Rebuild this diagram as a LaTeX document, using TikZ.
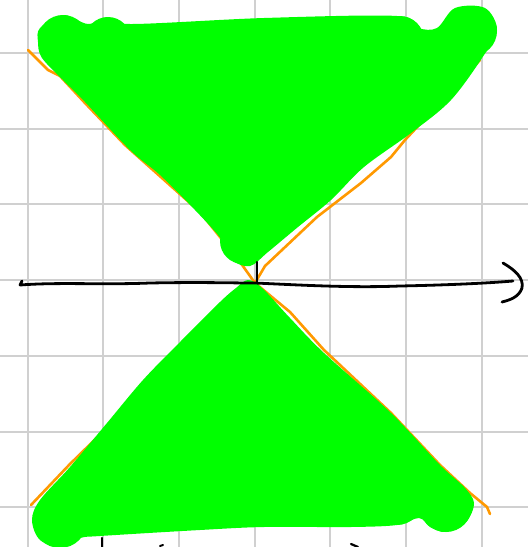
\documentclass[tikz,border=0pt]{standalone}
\begin{document}
\begin{tikzpicture}[x=1pt,y=-1pt,
  gridline/.style={draw={rgb,255:red,208;green,208;blue,208},line width=2pt},
  orangeline/.style={draw={rgb,255:red,255;green,153;blue,0},line width=2.6pt,line join=round,line cap=round},
  blob/.style={fill={rgb,255:red,0;green,255;blue,0}},
  ink/.style={draw=black,line width=2.8pt,line cap=round,line join=round}]
\useasboundingbox (0,0) rectangle (528,547);
\fill[white] (0,0) rectangle (528,547);
% grid
\foreach \gx in {27.5,103.2,178.9,254.6,330.3,406,481.7}
  \draw[gridline] (\gx,0) -- (\gx,547);
\foreach \gy in {53,128.7,204.4,280.1,355.8,431.5,507.2}
  \draw[gridline] (0,\gy) -- (528,\gy);
% orange lines
\coordinate (o) at (255,283);
\draw[orangeline] (28,50) -- (48,70) -- (60,76) -- (85,103) -- (125,145) -- (200,212) -- (220,237) -- (240,262) -- (o);
\draw[orangeline] (o) -- (265,266) -- (300,233) -- (317,217) -- (361,183) -- (391,157) -- (405,140) -- (480,60);
\draw[orangeline] (o) -- (70,464) -- (31,505);
\draw[orangeline] (o) -- (290,312) -- (324,350) -- (391,413) -- (440,465) -- (470,493) -- (487,507) -- (490,514);
% green blobs
\fill[blob] plot[smooth cycle, tension=0.55] coordinates {
 (40,28) (63,15) (88,24) (108,17) (130,24) (264,18) (397,16) (418,28) (437,28)
 (455,8) (485,8) (497,30) (484,55) (451,100) (411,133) (364,167) (331,200)
 (298,227) (268,252) (250,266) (232,260) (222,240) (195,210) (160,175) (130,150)
 (85,102) (65,82) (42,58) (38,42)};
\fill[blob] (63,40) circle[radius=25];
\fill[blob] (108,40) circle[radius=23];
\fill[blob] (400,40) circle[radius=24];
\fill[blob] (472,31) circle[radius=25];
\fill[blob] (243,241) circle[radius=23];
\fill[blob] plot[smooth cycle, tension=0.55] coordinates {
 (248,280) (262,288) (290,318) (324,353) (391,413) (440,465) (464,487) (474,503)
 (466,522) (446,532) (430,527) (419,518) (397,525) (351,527) (264,527) (200,530)
 (100,536) (80,538) (62,547) (40,540) (32,520) (40,500) (70,467) (107,423) (143,380)
 (180,342) (220,302) (236,288)};
\fill[blob] (60,521) circle[radius=27];
\fill[blob] (446,506) circle[radius=26];
\fill[blob] (397,500) circle[radius=25];
% axis
\coordinate (xs) at (20,285);
\coordinate (xe) at (513,281);
\draw[ink] (22,281) -- (xs) .. controls (60,282) and (100,285) .. (150,283)
  .. controls (200,282) and (230,283) .. (255,283)
  .. controls (300,285) and (350,288) .. (400,286)
  .. controls (450,285) and (490,283) .. (xe);
\draw[ink] (503,263) .. controls (515,270) and (524,278) .. (522,288)
  .. controls (519,297) and (510,300) .. (502,302);
\draw[ink,line width=2.2pt] (257,262) -- (257,283);
% partial strokes at the bottom edge
\draw[ink,line width=2.2pt] (102,538) -- (102,548);
\draw[ink,line width=2pt] (160,546) -- (163,545);
\draw[ink,line width=2.2pt] (351,544) -- (358,547);
\end{tikzpicture}
\end{document}
